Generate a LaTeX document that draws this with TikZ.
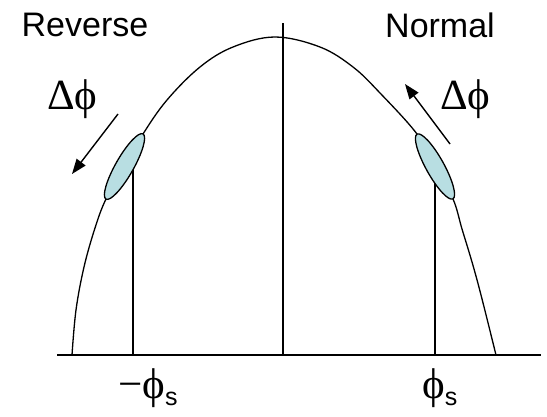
\documentclass[tikz,border=0pt]{standalone}
\usepackage{fontspec}
\setmainfont{Liberation Serif}
\newfontfamily\lsans{Liberation Sans}
\usetikzlibrary{arrows.meta}
\definecolor{bunch}{RGB}{184,222,226}
\begin{document}
\begin{tikzpicture}[x=1pt,y=1pt,
  curve/.style={line width=1.3pt},
  axisline/.style={line width=1.9pt},
  vline/.style={line width=1.6pt},
  bunchshape/.style={draw,line width=1.3pt,fill=bunch},
  dirarrow/.style={line width=1.4pt,-{Triangle[length=15pt,width=11pt]}},
  sanslabel/.style={font=\lsans\fontsize{34}{40}\selectfont,anchor=base},
  greeklabel/.style={font=\fontsize{43}{48}\selectfont,anchor=base west,inner sep=0pt}]
\useasboundingbox (0,0) rectangle (547,416);
% axis
\coordinate (axL) at (57,61);
\coordinate (axR) at (541,61);
\draw[axisline] (axL) -- (axR);
% verticals
\coordinate (c0) at (283,61);
\coordinate (c1) at (283,393);
\draw[vline] (c0) -- (c1);
\coordinate (l0) at (133,61);
\coordinate (l1) at (133,250);
\draw[vline] (l0) -- (l1);
\coordinate (r0) at (435,61);
\coordinate (r1) at (435,242);
\draw[vline] (r0) -- (r1);
% curve
\draw[curve] plot[smooth,tension=0.6] coordinates {(72,61) (76,106) (84,149) (95,188) (106,217) (124.5,249.5) (143,282) (167,316) (200,349) (233,369) (275,379) (320,369) (353,349) (380,323) (417,282) (435,249.5) (453,217) (462,187) (472,154) (481,121) (496,61)};
% bunches
\coordinate (bl) at (124.5,249.5);
\coordinate (br) at (435,249.5);
\draw[bunchshape,shift={(bl)},rotate=60.4] (0,0) ellipse [x radius=37.5, y radius=9];
\draw[bunchshape,shift={(br)},rotate=-61] (0,0) ellipse [x radius=37, y radius=9];
% arrows
\coordinate (a1s) at (118,302);
\coordinate (a1e) at (72,242);
\draw[dirarrow] (a1s) -- (a1e);
\coordinate (a2s) at (450,272);
\coordinate (a2e) at (405,332);
\draw[dirarrow] (a2s) -- (a2e);
% labels
\node[sanslabel] (rev) at (85,379) {Reverse};
\node[sanslabel] (nor) at (440,378) {Normal};
\node[greeklabel] (dl) at (47,306) {Δϕ};
\node[greeklabel] (dr) at (440,306) {Δϕ};
\node[greeklabel] (ml) at (118,18) {−ϕ\raisebox{-7pt}{\lsans\fontsize{25}{30}\selectfont s}};
\node[greeklabel] (mr) at (422,18) {ϕ\raisebox{-7pt}{\lsans\fontsize{25}{30}\selectfont s}};
\end{tikzpicture}
\end{document}
